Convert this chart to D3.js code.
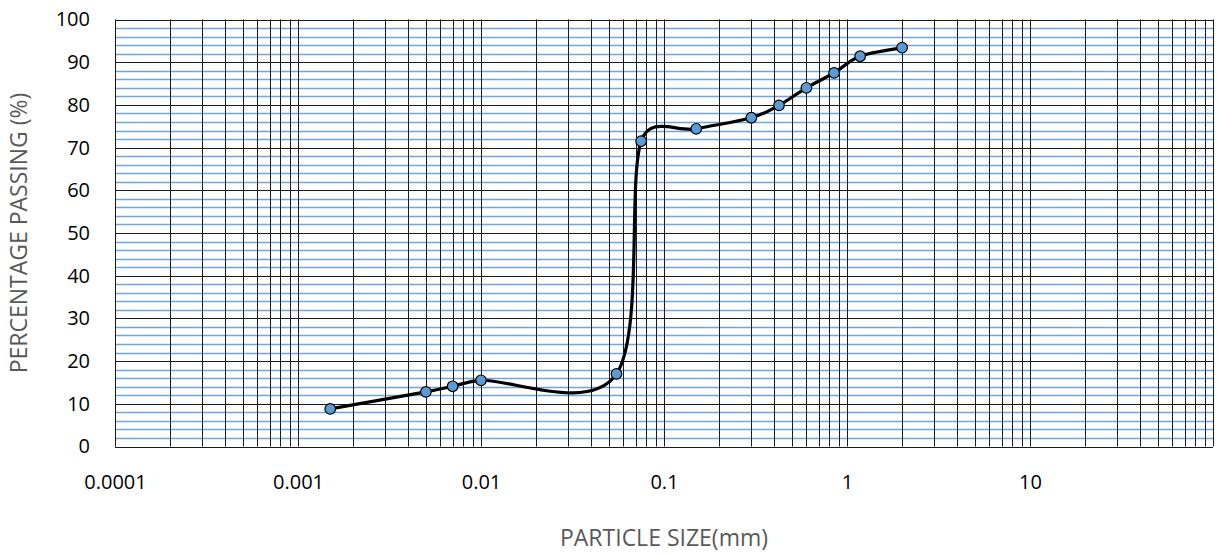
<!DOCTYPE html>
<html>
<head>
<meta charset="utf-8">
<script src="https://cdn.jsdelivr.net/npm/d3@7"></script>
<style>
  html, body { margin: 0; padding: 0; background: #fff; }
  svg { display: block; }
  text { font-family: "Open Sans", "Noto Sans", sans-serif; }
</style>
</head>
<body>
<svg id="chart" width="1217" height="556"></svg>
<script>
// Grain size distribution: particle size (mm) vs percentage passing
const particleSize = [0.0015, 0.005, 0.007, 0.01, 0.055, 0.075, 0.15, 0.3, 0.425, 0.6, 0.85, 1.18, 2.0];
const percentPassing = [8.8, 12.8, 14.1, 15.5, 17.0, 71.5, 74.4, 77.0, 79.9, 84.0, 87.5, 91.4, 93.4];

const xTickValues = [0.0001, 0.001, 0.01, 0.1, 1, 10];
const xTickLabels = ["0.0001", "0.001", "0.01", "0.1", "1", "10"];
const yTickValues = [0, 10, 20, 30, 40, 50, 60, 70, 80, 90, 100];

const xTitle = "PARTICLE SIZE(mm)";
const yTitle = "PERCENTAGE PASSING (%)";

const svg = d3.select("#chart");
const plotLeft = 115, plotRight = 1213, plotTop = 19.5, plotBottom = 446.5;

const x = d3.scaleLog().domain([0.0001, 100]).range([plotLeft, plotRight]);
const y = d3.scaleLinear().domain([0, 100]).range([plotBottom, plotTop]);

const px = v => Math.round(v) + 0.5;

// minor horizontal gridlines every 2 %
const minorY = d3.range(0, 101, 2).filter(v => v % 10 !== 0);
svg.append("g").selectAll("line").data(minorY).join("line")
  .attr("x1", plotLeft).attr("x2", plotRight)
  .attr("y1", d => px(y(d))).attr("y2", d => px(y(d)))
  .attr("stroke", "#6fa7da").attr("stroke-width", 1.3);

// vertical gridlines at every 1..9 x 10^n
const vLines = [];
for (let e = -4; e <= 1; e++) {
  for (let m = 1; m <= 9; m++) vLines.push(m * Math.pow(10, e));
}
vLines.push(100);
svg.append("g").selectAll("line").data(vLines).join("line")
  .attr("y1", plotTop).attr("y2", plotBottom)
  .attr("x1", d => px(x(d))).attr("x2", d => px(x(d)))
  .attr("stroke", "#1a1a1a").attr("stroke-width", 1);

// major horizontal gridlines
svg.append("g").selectAll("line").data(yTickValues).join("line")
  .attr("x1", plotLeft).attr("x2", plotRight)
  .attr("y1", d => px(y(d))).attr("y2", d => px(y(d)))
  .attr("stroke", "#1a1a1a").attr("stroke-width", 1);

// y axis labels
const yAxis = d3.axisLeft(y).tickValues(yTickValues).tickSize(0).tickPadding(25);
const gy = svg.append("g").attr("transform", `translate(${plotLeft},0)`).call(yAxis);
gy.select(".domain").remove();
gy.selectAll("text").attr("font-size", 20).attr("fill", "#000")
  .style("font-family", '"Open Sans", sans-serif');

// x axis labels
const xAxis = d3.axisBottom(x).tickValues(xTickValues)
  .tickFormat((d, i) => xTickLabels[i]).tickSize(0).tickPadding(28);
const gx = svg.append("g").attr("transform", `translate(0,${plotBottom})`).call(xAxis);
gx.select(".domain").remove();
gx.selectAll("text").attr("font-size", 20).attr("fill", "#000")
  .style("font-family", '"Open Sans", sans-serif');

// Smoothed line: cubic Bezier segments with tangents (p[i+1]-p[i-1])/6,
// each control arm limited to half of its segment's length.
function smoothPath(p) {
  const path = d3.path();
  const n = p.length;
  const tangent = i => {
    const a = p[Math.max(0, i - 1)], b = p[Math.min(n - 1, i + 1)];
    return [(b[0] - a[0]) / 6, (b[1] - a[1]) / 6];
  };
  const limit = (t, segLen) => {
    const len = Math.hypot(t[0], t[1]);
    const k = len > segLen / 2 ? (segLen / 2) / len : 1;
    return [t[0] * k, t[1] * k];
  };
  path.moveTo(p[0][0], p[0][1]);
  for (let i = 0; i < n - 1; i++) {
    const a = p[i], b = p[i + 1];
    const seg = Math.hypot(b[0] - a[0], b[1] - a[1]);
    const ta = limit(tangent(i), seg), tb = limit(tangent(i + 1), seg);
    path.bezierCurveTo(a[0] + ta[0], a[1] + ta[1], b[0] - tb[0], b[1] - tb[1], b[0], b[1]);
  }
  return path.toString();
}

const pts = particleSize.map((s, i) => [x(s), y(percentPassing[i])]);
svg.append("path")
  .attr("d", smoothPath(pts))
  .attr("fill", "none").attr("stroke", "#000").attr("stroke-width", 3.2)
  .attr("stroke-linejoin", "round");

// markers
svg.append("g").selectAll("circle").data(pts).join("circle")
  .attr("cx", d => d[0]).attr("cy", d => d[1]).attr("r", 5.3)
  .attr("fill", "#5b9bd5").attr("stroke", "#000").attr("stroke-width", 1.2);

// axis titles
svg.append("text").attr("x", (plotLeft + plotRight) / 2).attr("y", 546)
  .attr("text-anchor", "middle").attr("font-size", 23).attr("fill", "#595959")
  .text(xTitle);
svg.append("text")
  .attr("transform", `translate(27,${(plotTop + plotBottom) / 2}) rotate(-90)`)
  .attr("text-anchor", "middle").attr("font-size", 23).attr("fill", "#595959")
  .text(yTitle);
</script>
</body>
</html>
